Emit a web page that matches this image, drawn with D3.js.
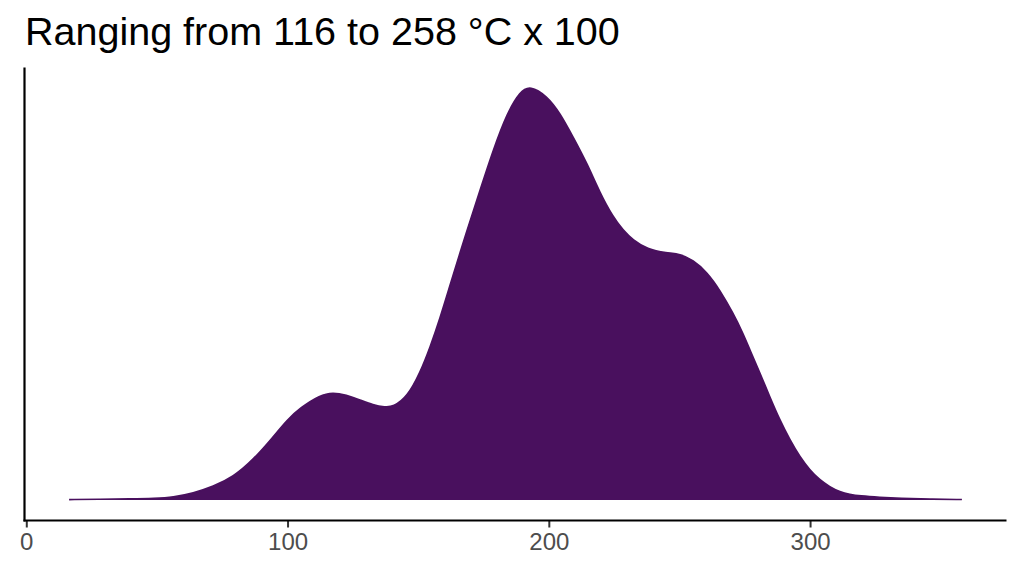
<!DOCTYPE html>
<html>
<head>
<meta charset="utf-8">
<script src="https://cdn.jsdelivr.net/npm/d3@7"></script>
<style>
  html, body { margin: 0; padding: 0; background: #ffffff; }
  svg { display: block; }
</style>
</head>
<body>
<svg id="chart" width="1024" height="576"></svg>
<script>
// Data (density estimate of temperature values, °C x 100)
const titleText = "Ranging from 116 to 258 °C x 100";
const xValues = [16.4, 28.3, 39.8, 49.3, 56.2, 63.9, 71.5, 79.2, 86.8, 94.5, 99.8, 104.8, 112.5,
  117.4, 122.4, 127.8, 132.7, 137.3, 140.4, 145.8, 150.7, 154.6, 158.4, 162.2, 168.7, 173.7, 178.7,
  184.0, 189.0, 192.8, 199.3, 204.3, 209.3, 214.6, 219.6, 224.6, 228.4, 232.2, 237.6, 245.2, 250.2,
  255.2, 260.5, 265.5, 270.5, 274.3, 277.0, 280.8, 284.6, 288.4, 292.3, 296.1, 299.9, 303.7, 307.6,
  311.4, 315.2, 319.0, 326.7, 334.4, 345.8, 358.1];
const densityValues = [0.000007, 0.000014, 0.000023, 0.000037, 0.000062, 0.000155, 0.000307, 0.000530,
  0.000922, 0.001453, 0.001845, 0.002122, 0.002421, 0.002480, 0.002421, 0.002306, 0.002191, 0.002140,
  0.002145, 0.002375, 0.002929, 0.003528, 0.004197, 0.004958, 0.006226, 0.007149, 0.008071, 0.008924,
  0.009420, 0.009560, 0.009320, 0.008924, 0.008371, 0.007771, 0.007079, 0.006526, 0.006226, 0.005996,
  0.005788, 0.005696, 0.005673, 0.005534, 0.005258, 0.004843, 0.004312, 0.003851, 0.003459, 0.002929,
  0.002375, 0.001845, 0.001384, 0.000992, 0.000692, 0.000461, 0.000300, 0.000184, 0.000127, 0.000092,
  0.000058, 0.000035, 0.000018, 0.000009];
const xTicks = [0, 100, 200, 300];

const points = xValues.map((x, i) => ({ x: x, d: densityValues[i] }));

const svg = d3.select("#chart");
const panel = { left: 24.5, right: 1006.5, top: 67.5, bottom: 520.5 };
const fillColor = "#49105e";

// ggplot-style 5% expansion of the data range
const xExt = d3.extent(xValues);
const xPad = (xExt[1] - xExt[0]) * 0.05;
const x = d3.scaleLinear().domain([xExt[0] - xPad, xExt[1] + xPad]).range([panel.left, panel.right]);
const yMax = 0.0095;
const y = d3.scaleLinear().domain([-yMax * 0.05, yMax * 1.05]).range([panel.bottom, panel.top]);

// Title
svg.append("text")
  .attr("x", 25).attr("y", 45)
  .attr("font-family", "Liberation Sans, Arial, sans-serif")
  .attr("font-size", 39.5)
  .attr("fill", "#000")
  .text(titleText);

// Density area
const curve = d3.curveBasis;
const area = d3.area()
  .x(p => x(p.x)).y0(y(0)).y1(p => y(p.d))
  .curve(curve);
svg.append("path").datum(points)
  .attr("d", area)
  .attr("fill", fillColor);

const line = d3.line().x(p => x(p.x)).y(p => y(p.d)).curve(curve);
svg.append("path").datum(points)
  .attr("d", line)
  .attr("fill", "none")
  .attr("stroke", fillColor)
  .attr("stroke-width", 1.6);

// Axes
const xAxis = d3.axisBottom(x).tickValues(xTicks).tickSize(7).tickPadding(5).tickFormat(d3.format("d"));
const gx = svg.append("g").attr("transform", `translate(0,${panel.bottom})`).call(xAxis);
gx.select(".domain").remove();
gx.selectAll(".tick line").attr("stroke", "#333333").attr("stroke-width", 2);
gx.selectAll(".tick text")
  .attr("font-family", "Liberation Sans, Arial, sans-serif")
  .attr("font-size", 24)
  .attr("fill", "#4d4d4d");

svg.append("line")
  .attr("x1", panel.left - 1).attr("x2", panel.right)
  .attr("y1", panel.bottom).attr("y2", panel.bottom)
  .attr("stroke", "#000").attr("stroke-width", 2.2);
svg.append("line")
  .attr("x1", panel.left).attr("x2", panel.left)
  .attr("y1", panel.top).attr("y2", panel.bottom + 1)
  .attr("stroke", "#000").attr("stroke-width", 2.2);
</script>
</body>
</html>
